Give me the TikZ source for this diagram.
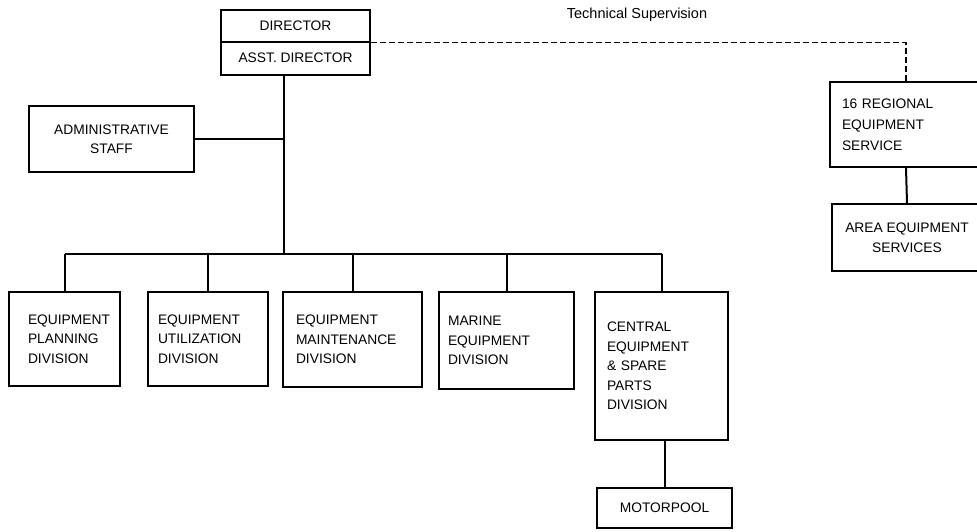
\documentclass[tikz,border=0pt]{standalone}
\usepackage{fontspec}
\setmainfont{Liberation Sans}
\begin{document}
\begin{tikzpicture}[x=1pt,y=-1pt,
  font=\fontsize{13.8}{19.5}\selectfont,
  box/.style={draw, line width=1.6pt, rectangle, inner ysep=0pt},
  lbox/.style={box, align=left, inner xsep=#1},
  cbox/.style={box, align=center},
  conn/.style={line width=2pt},
  dashconn/.style={line width=1.3pt, dash pattern=on 6pt off 3pt}]
\useasboundingbox (0,0) rectangle (977,531);
\clip (0,0) rectangle (977,531);
\fill[white] (0,0) rectangle (977,531);

% director
\node[cbox, minimum width=149pt, minimum height=32pt] (dir) at (295.5,26) {\raisebox{-4pt}{DIRECTOR}};
\node[cbox, minimum width=149pt, minimum height=33pt] (asst) at (295.5,58.5) {\raisebox{2pt}{ASST. DIRECTOR}};

% admin
\node[cbox, minimum width=165pt, minimum height=66pt] (admin) at (111.5,139) {ADMINISTRATIVE\\STAFF};

% divisions
\node[lbox=19pt, text width=73pt, minimum height=94pt] (d1) at (64.5,339) {EQUIPMENT\\PLANNING\\DIVISION};
\node[lbox=10pt, text width=100pt, minimum height=94pt] (d2) at (208,339) {EQUIPMENT\\UTILIZATION\\DIVISION};
\node[lbox=13pt, text width=113pt, minimum height=95pt] (d3) at (352.5,339.5) {EQUIPMENT\\MAINTENANCE\\DIVISION};
\node[lbox=9pt, text width=117pt, minimum height=97pt] (d4) at (506.5,340.5) {MARINE\\EQUIPMENT\\DIVISION};
\node[lbox=12pt, text width=109pt, minimum height=148pt] (d5) at (661.5,366) {CENTRAL\\EQUIPMENT\\\&~SPARE\\PARTS\\DIVISION};
\node[cbox, minimum width=135pt, minimum height=40pt] (motor) at (664.5,508) {MOTORPOOL};

% regional
\node[lbox=12pt, text width=128pt, minimum height=85pt, font=\fontsize{13.8}{21}\selectfont] (reg) at (906,124.5) {16 REGIONAL\\EQUIPMENT\\SERVICE};
\node[cbox, minimum width=150pt, minimum height=67pt] (area) at (907,237.5) {AREA EQUIPMENT\\SERVICES};

\node[font=\fontsize{14.5}{16}\selectfont, inner sep=0pt] (tech) at (637,15) {Technical Supervision};

% connectors
\coordinate (bus) at (284,254);
\draw[conn] (asst.south -| bus) -- (bus);
\draw[conn] (admin.east) -- (admin.east -| bus);
\draw[conn] (d1.north |- bus) -- (d5.north |- bus);
\foreach \n in {d1,d2,d3,d4,d5}
  \draw[conn] (\n.north |- bus) -- (\n.north);
\draw[conn] (d5.south -| motor.north) -- (motor.north);
\draw[dashconn] (dir.south east) -- (dir.south east -| reg.north) -- (reg.north);
\draw[conn] (reg.south) -- (area.north);
\end{tikzpicture}
\end{document}
